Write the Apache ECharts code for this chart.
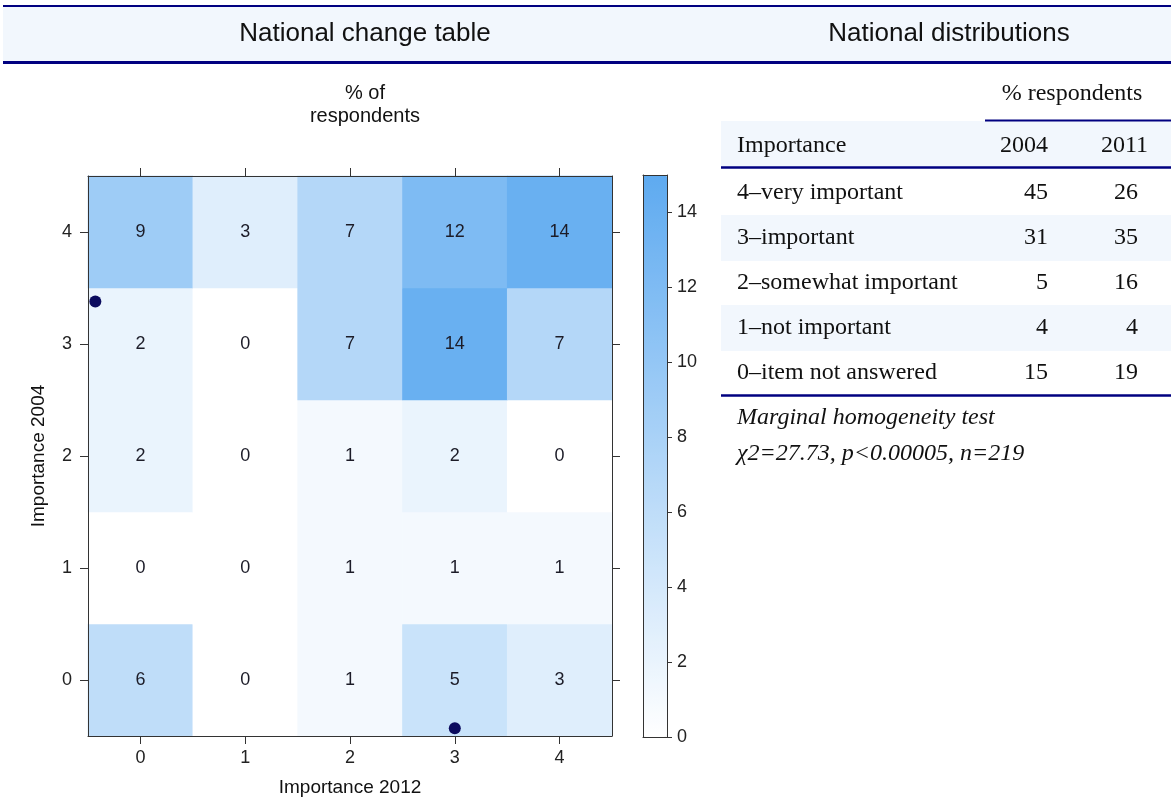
<!DOCTYPE html>
<html>
<head>
<meta charset="utf-8">
<script src="https://cdn.jsdelivr.net/npm/echarts@6/dist/echarts.min.js"></script>
<style>
  html, body { margin: 0; padding: 0; background: #ffffff; }
  #chart { width: 1171px; height: 805px; }
</style>
</head>
<body>
<div id="chart"></div>
<script>
// ---------- data ----------
const importance2012 = ['0', '1', '2', '3', '4'];   // x categories
const importance2004 = ['0', '1', '2', '3', '4'];   // y categories
// percent of respondents, rows = Importance 2004 (0..4), cols = Importance 2012 (0..4)
const row2004_0 = [6, 0, 1, 5, 3];
const row2004_1 = [0, 0, 1, 1, 1];
const row2004_2 = [2, 0, 1, 2, 0];
const row2004_3 = [2, 0, 7, 14, 7];
const row2004_4 = [9, 3, 7, 12, 14];
const markerPoints = [[-0.43, 3.38], [3.0, -0.43]];
const colorbarTicks = [0, 2, 4, 6, 8, 10, 12, 14];

const tableTitle = '% respondents';
const tableHeader = ['Importance', '2004', '2011'];
const tableLabels = ['4–very important', '3–important', '2–somewhat important', '1–not important', '0–item not answered'];
const pct2004 = [45, 31, 5, 4, 15];
const pct2011 = [26, 35, 16, 4, 19];
const testTitle = 'Marginal homogeneity test';
const testResult = 'χ2=27.73, p<0.00005, n=219';

// ---------- build ----------
const rows = [row2004_0, row2004_1, row2004_2, row2004_3, row2004_4];
const heatData = [];
rows.forEach((r, yi) => r.forEach((v, xi) => heatData.push([xi, yi, v])));

const SANS = '"Liberation Sans", Arial, sans-serif';
const SERIF = '"Liberation Serif", "Times New Roman", serif';
const NAVY = '#000080';
const BAND = '#f2f7fd';
const AXC = '#333333';

const G = { left: 88, top: 176, width: 524, height: 560 };
const CB = { left: 643, top: 175, width: 24, height: 562 };

const graphics = [];
// header band
graphics.push({ type: 'rect', shape: { x: 3, y: 7, width: 1168, height: 55 }, style: { fill: BAND }, silent: true });
graphics.push({ type: 'line', shape: { x1: 3, y1: 6, x2: 1171, y2: 6 }, style: { stroke: NAVY, lineWidth: 2 }, silent: true });
graphics.push({ type: 'line', shape: { x1: 3, y1: 62.5, x2: 1171, y2: 62.5 }, style: { stroke: NAVY, lineWidth: 3 }, silent: true });
graphics.push({ type: 'text', x: 365, y: 34, style: { text: 'National change table', font: '26px ' + SANS, fill: '#111', textAlign: 'center', textVerticalAlign: 'middle' }, silent: true });
graphics.push({ type: 'text', x: 949, y: 34, style: { text: 'National distributions', font: '26px ' + SANS, fill: '#111', textAlign: 'center', textVerticalAlign: 'middle' }, silent: true });
// heatmap title
graphics.push({ type: 'text', x: 365, y: 105, style: { text: '% of\nrespondents', font: '20px ' + SANS, fill: '#111', textAlign: 'center', textVerticalAlign: 'middle', lineHeight: 23 }, silent: true });

// table
const TX = 721, TR = 1171;
const labelX = 737, c1 = 1048, c2 = 1138, c2h = 1148;
graphics.push({ type: 'text', x: 1072, y: 94, style: { text: tableTitle, font: '24px ' + SERIF, fill: '#111', textAlign: 'center', textVerticalAlign: 'middle' }, silent: true });
graphics.push({ type: 'rect', shape: { x: TX, y: 121, width: TR - TX, height: 46 }, style: { fill: BAND }, silent: true });
graphics.push({ type: 'line', shape: { x1: 985, y1: 120.5, x2: TR, y2: 120.5 }, style: { stroke: NAVY, lineWidth: 2 }, silent: true });
graphics.push({ type: 'line', shape: { x1: TX, y1: 167.5, x2: TR, y2: 167.5 }, style: { stroke: NAVY, lineWidth: 2.5 }, silent: true });
graphics.push({ type: 'text', x: labelX, y: 146, style: { text: tableHeader[0], font: '24px ' + SERIF, fill: '#111', textAlign: 'left', textVerticalAlign: 'middle' }, silent: true });
graphics.push({ type: 'text', x: c1, y: 146, style: { text: tableHeader[1], font: '24px ' + SERIF, fill: '#111', textAlign: 'right', textVerticalAlign: 'middle' }, silent: true });
graphics.push({ type: 'text', x: c2h, y: 146, style: { text: tableHeader[2], font: '24px ' + SERIF, fill: '#111', textAlign: 'right', textVerticalAlign: 'middle' }, silent: true });
tableLabels.forEach((lab, i) => {
  const y = 193 + i * 45;
  if (i % 2 === 1) {
    graphics.push({ type: 'rect', shape: { x: TX, y: y - 23, width: TR - TX, height: 46 }, style: { fill: BAND }, silent: true });
  }
  graphics.push({ type: 'text', x: labelX, y: y, style: { text: lab, font: '24px ' + SERIF, fill: '#111', textAlign: 'left', textVerticalAlign: 'middle' }, silent: true });
  graphics.push({ type: 'text', x: c1, y: y, style: { text: String(pct2004[i]), font: '24px ' + SERIF, fill: '#111', textAlign: 'right', textVerticalAlign: 'middle' }, silent: true });
  graphics.push({ type: 'text', x: c2, y: y, style: { text: String(pct2011[i]), font: '24px ' + SERIF, fill: '#111', textAlign: 'right', textVerticalAlign: 'middle' }, silent: true });
});
graphics.push({ type: 'line', shape: { x1: TX, y1: 395.5, x2: TR, y2: 395.5 }, style: { stroke: NAVY, lineWidth: 2.5 }, silent: true });
graphics.push({ type: 'text', x: labelX, y: 418, style: { text: testTitle, font: 'italic 24px ' + SERIF, fill: '#111', textAlign: 'left', textVerticalAlign: 'middle' }, silent: true });
graphics.push({ type: 'text', x: labelX, y: 454, style: { text: testResult, font: 'italic 24px ' + SERIF, fill: '#111', textAlign: 'left', textVerticalAlign: 'middle' }, silent: true });

const lineStyleAx = { show: true, onZero: false, lineStyle: { color: AXC, width: 1 } };
const catAxisCommon = {
  type: 'category', gridIndex: 0, z: 3,
  axisLine: lineStyleAx,
  axisTick: { show: true, alignWithLabel: true, length: 8, lineStyle: { color: AXC } },
  splitLine: { show: false }
};
const cbFrame = { gridIndex: 1, type: 'value', z: 10, axisLine: lineStyleAx, axisTick: { show: false }, axisLabel: { show: false }, splitLine: { show: false } };

const option = {
  animation: false,
  backgroundColor: '#ffffff',
  textStyle: { fontFamily: SANS },
  grid: [
    { left: G.left, top: G.top, width: G.width, height: G.height, containLabel: false, outerBoundsMode: 'none' },
    { left: CB.left, top: CB.top, width: CB.width, height: CB.height, containLabel: false, outerBoundsMode: 'none' }
  ],
  xAxis: [
    Object.assign({}, catAxisCommon, {
      position: 'bottom', data: importance2012,
      axisLabel: { margin: 13, fontSize: 18, color: '#222', fontFamily: SANS },
      name: 'Importance 2012', nameLocation: 'middle', nameGap: 42,
      nameTextStyle: { fontSize: 19, color: '#111', fontFamily: SANS }
    }),
    Object.assign({}, catAxisCommon, { position: 'top', data: importance2012, axisLabel: { show: false } }),
    { type: 'value', gridIndex: 0, min: -0.5, max: 4.5, show: false },
    Object.assign({}, cbFrame, { position: 'bottom', min: 0, max: 1 }),
    Object.assign({}, cbFrame, { position: 'top', min: 0, max: 1 })
  ],
  yAxis: [
    Object.assign({}, catAxisCommon, {
      position: 'left', data: importance2004,
      axisLabel: { margin: 16, fontSize: 18, color: '#222', fontFamily: SANS },
      name: 'Importance 2004', nameLocation: 'middle', nameGap: 40, nameRotate: 90,
      nameTextStyle: { fontSize: 19, color: '#111', fontFamily: SANS }
    }),
    Object.assign({}, catAxisCommon, { position: 'right', data: importance2004, axisLabel: { show: false } }),
    { type: 'value', gridIndex: 0, min: -0.5, max: 4.5, show: false },
    { type: 'value', gridIndex: 1, position: 'right', min: 0, max: 15, z: 10,
      axisLine: lineStyleAx,
      axisTick: { show: true, length: 5, lineStyle: { color: AXC }, customValues: colorbarTicks },
      axisLabel: { show: true, margin: 10, fontSize: 18, color: '#222', fontFamily: SANS, customValues: colorbarTicks },
      splitLine: { show: false } },
    Object.assign({}, cbFrame, { position: 'left', min: 0, max: 15 })
  ],
  visualMap: {
    type: 'continuous', min: 0, max: 15, seriesIndex: 0, dimension: 2,
    orient: 'vertical', left: CB.left, top: CB.top, itemWidth: CB.width, itemHeight: CB.height,
    padding: 0, calculable: false, hoverLink: false, text: null,
    inRange: { color: ['#ffffff', '#5eaaf0'] },
    textStyle: { color: 'transparent' }
  },
  graphic: graphics,
  series: [
    {
      type: 'heatmap', xAxisIndex: 0, yAxisIndex: 0, data: heatData, z: 1,
      label: { show: true, fontSize: 18, color: '#1c1c28', fontFamily: SANS, formatter: p => String(p.value[2]) },
      emphasis: { disabled: true }, silent: true
    },
    {
      type: 'scatter', xAxisIndex: 2, yAxisIndex: 2, data: markerPoints, z: 6,
      symbol: 'circle', symbolSize: 12, itemStyle: { color: '#0b0b5e', opacity: 1 }, silent: true
    }
  ]
};

const chart = echarts.init(document.getElementById('chart'), null, { renderer: 'canvas' });
chart.setOption(option);
</script>
</body>
</html>
